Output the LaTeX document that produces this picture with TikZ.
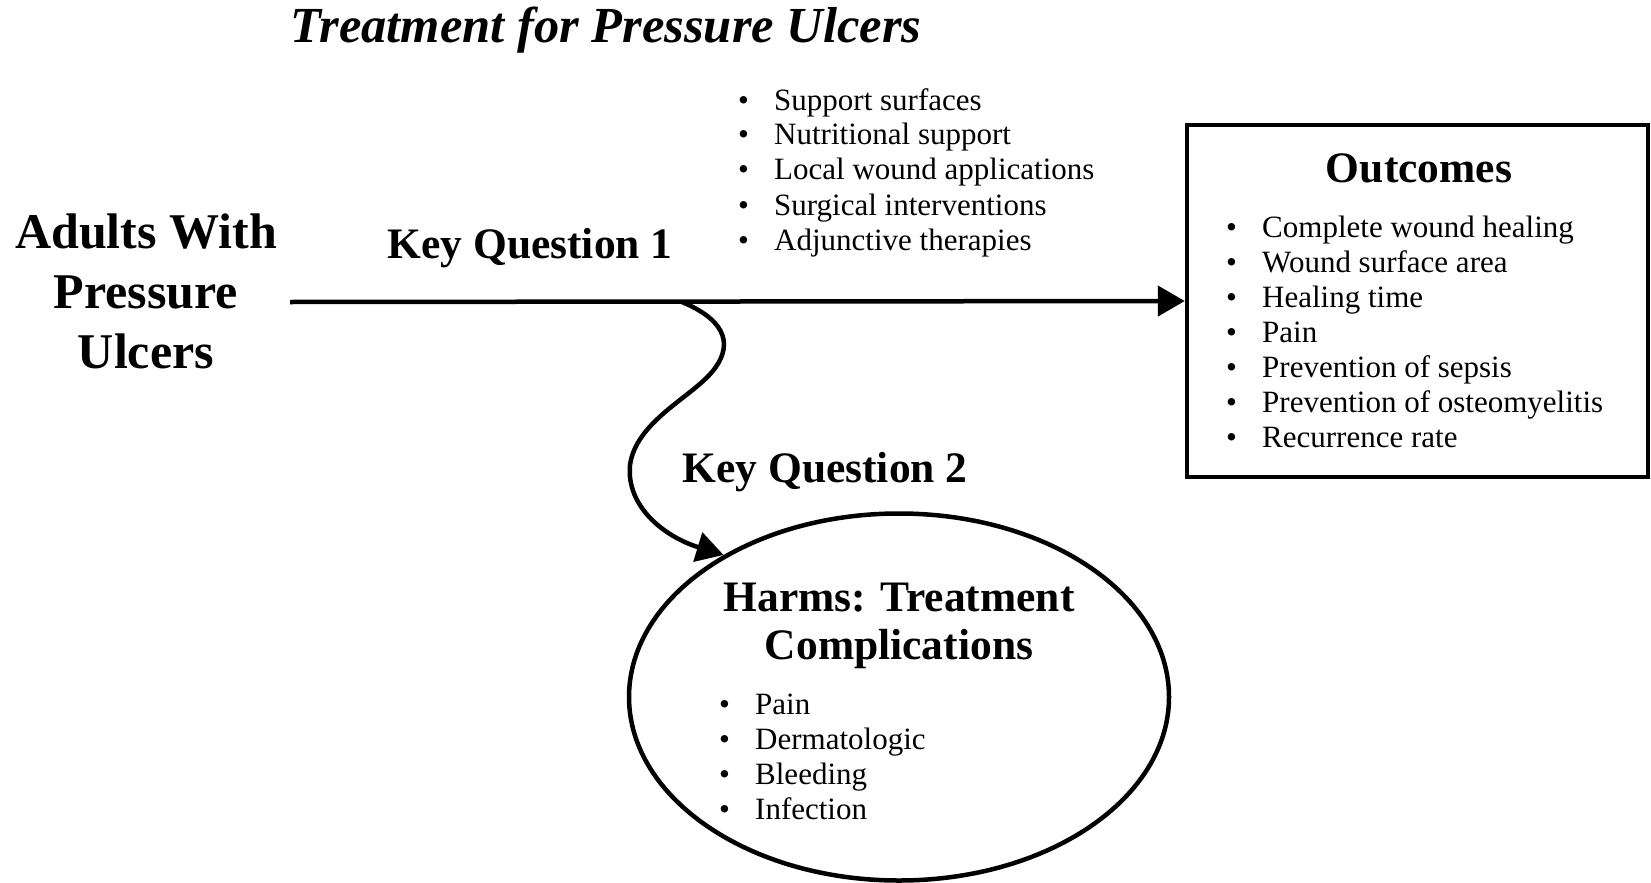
\documentclass[tikz,border=0pt]{standalone}
\usepackage{fontspec}
\setmainfont{Liberation Serif}
\usetikzlibrary{arrows.meta,shapes.geometric}
\newcommand\itm[1]{\textbullet & #1\\}
\begin{document}
\begin{tikzpicture}[x=1pt,y=-1pt,
  lw/.style={line width=4.5pt},
  conn/.style={lw,-{Triangle[length=27pt,width=30pt]}},
  txt/.style={inner sep=0pt,anchor=base},
  listtxt/.style={inner sep=0pt,anchor=base west,font=\fontsize{31}{35}\selectfont},
  headbig/.style={font=\fontsize{43.5}{50}\selectfont\bfseries}]
\useasboundingbox (0,0) rectangle (1651,883);
% title
\node[txt] (title) at (606,43) {\fontsize{50.5}{56}\selectfont\bfseries\itshape Treatment for Pressure Ulcers};
% population
\node[txt,font=\fontsize{50}{60}\selectfont\bfseries] (adults) at (146,248)
  {\begin{tabular}[t]{@{}c@{}}Adults With\\Pressure\\Ulcers\end{tabular}};
% key questions
\node[txt,headbig] (kq1) at (530,258) {Key Question 1};
\node[txt,headbig] (kq2) at (825,482) {Key Question 2};
% interventions
\node[listtxt] (interv) at (738,110)
  {\begin{tabular}[t]{@{}p{36pt}@{}l@{}}\itm{Support surfaces}\itm{Nutritional support}\itm{Local wound applications}\itm{Surgical interventions}\itm{Adjunctive therapies}\end{tabular}};
% outcomes box
\node[draw,lw,rectangle,minimum width=461pt,minimum height=352pt,inner sep=0pt] (outcomes) at (1417.5,301) {};
\node[txt,headbig] (outtitle) at (1419,182) {Outcomes};
\node[listtxt] (outlist) at (1226,237)
  {\begin{tabular}[t]{@{}p{36pt}@{}l@{}}\itm{Complete wound healing}\itm{Wound surface area}\itm{Healing time}\itm{Pain}\itm{Prevention of sepsis}\itm{Prevention of osteomyelitis}\itm{Recurrence rate}\end{tabular}};
% harms ellipse
\node[draw,lw,ellipse,minimum width=540pt,minimum height=367pt,inner sep=0pt] (harms) at (899,697) {};
\node[txt,font=\fontsize{43.5}{48}\selectfont\bfseries] (harmstitle) at (899,611)
  {\begin{tabular}[t]{@{}c@{}}Harms: Treatment\\Complications\end{tabular}};
\node[listtxt] (harmlist) at (719,714)
  {\begin{tabular}[t]{@{}p{36pt}@{}l@{}}\itm{Pain}\itm{Dermatologic}\itm{Bleeding}\itm{Infection}\end{tabular}};
% connectors
\coordinate (kq1start) at (290,302);
\coordinate (kq2start) at (682,302);
\draw[conn] (kq1start) -- (outcomes.west);
\draw[conn] (kq2start) .. controls (730,322) and (732,348) .. (712,372)
  .. controls (690,398) and (636,422) .. (630,465)
  .. controls (626,507) and (665,537) .. (harms.141);
\end{tikzpicture}
\end{document}
